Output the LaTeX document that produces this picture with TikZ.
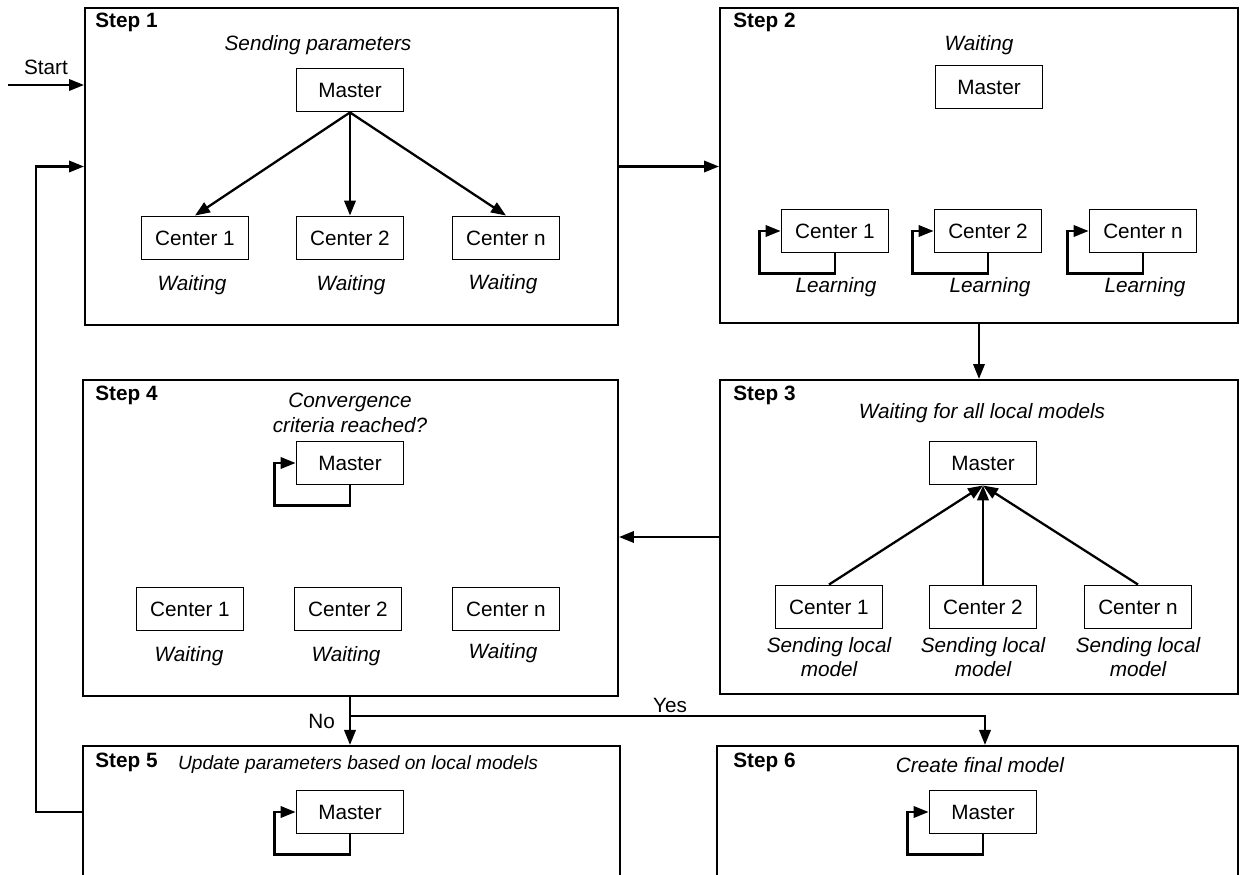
\documentclass[tikz,border=0pt]{standalone}
\usepackage{fontspec}
\setmainfont{Liberation Sans}
\usetikzlibrary{calc,arrows.meta,positioning}
\definecolor{ink}{HTML}{000000}
\newcommand\diafont{\fontsize{11.8}{14}\selectfont}
\newcommand\selfloop[1]{\draw[flow] (#1.south) -- ++(0,20) -| ($(#1.west)+(-21,0)$) -- (#1.west);}
\tikzset{
  stepframe/.style={draw=ink, line width=1.25pt, fill=white, inner sep=0pt},
  unit/.style={draw=ink, line width=1.1pt, fill=white, minimum width=2.14cm, minimum height=0.86cm, inner sep=0pt, font=\diafont},
  flow/.style={draw=ink, line width=1.3pt, line join=miter, -{Triangle[length=8.5pt,width=6.5pt]}},
  tag/.style={text=ink, font=\diafont\bfseries, anchor=west, inner sep=0pt},
  note/.style={text=ink, font=\diafont\itshape, align=center, inner sep=0pt},
  lab/.style={text=ink, font=\diafont, inner sep=0pt},
}
\begin{document}
\begin{tikzpicture}[x=0.02cm, y=-0.02cm]
  \useasboundingbox (0,0) rectangle (1245,875);
  \clip (0,0) rectangle (1245,875);
  \node[stepframe, minimum width=10.66cm, minimum height=6.34cm] (s1) at (351.5,166.5) {};
  \node[stepframe, minimum width=10.36cm, minimum height=6.30cm] (s2) at (979,165.5) {};
  \node[stepframe, minimum width=10.36cm, minimum height=6.28cm] (s3) at (979,537) {};
  \node[stepframe, minimum width=10.70cm, minimum height=6.32cm] (s4) at (350.5,538) {};
  \node[stepframe, minimum width=10.74cm, minimum height=5.08cm] (s5) at (351.5,873) {};
  \node[stepframe, minimum width=10.42cm, minimum height=5.08cm] (s6) at (977.5,873) {};

  \node[tag] (t1) at (95,22) {Step 1};
  \node[tag] (t2) at (733,22) {Step 2};
  \node[tag] (t3) at (733,395) {Step 3};
  \node[tag] (t4) at (95,395) {Step 4};
  \node[tag] (t5) at (95,762) {Step 5};
  \node[tag] (t6) at (733,762) {Step 6};

  % step 1
  \node[note] (h1) at (318,45) {Sending parameters};
  \node[unit] (m1) at (350,90) {Master};
  \node[unit] (c11) at (195,238) {Center 1};
  \node[unit] (c12) at (350,238) {Center 2};
  \node[unit] (c1n) at (506,238) {Center n};
  \node[note] (w11) at (192,285) {Waiting};
  \node[note] (w12) at (351,285) {Waiting};
  \node[note] (w1n) at (503,284) {Waiting};
  \foreach \c in {c11,c12,c1n} {\draw[flow] (m1.south) -- (\c.north);}

  % step 2
  \node[note] (h2) at (979,45) {Waiting};
  \node[unit] (m2) at (989,87) {Master};
  \node[unit] (c21) at (835,231) {Center 1};
  \node[unit] (c22) at (988,231) {Center 2};
  \node[unit] (c2n) at (1143,231) {Center n};
  \node[note] (l21) at (836,287) {Learning};
  \node[note] (l22) at (990,287) {Learning};
  \node[note] (l2n) at (1145,287) {Learning};
  \foreach \c in {c21,c22,c2n} {\selfloop{\c}}

  % step 3
  \node[note] (h3) at (982,413) {Waiting for all local models};
  \node[unit] (m3) at (983,463) {Master};
  \node[unit] (c31) at (829,607) {Center 1};
  \node[unit] (c32) at (983,607) {Center 2};
  \node[unit] (c3n) at (1138,607) {Center n};
  \node[note] (e31) at (829,657) {Sending local\\model};
  \node[note] (e32) at (983,657) {Sending local\\model};
  \node[note] (e3n) at (1138,657) {Sending local\\model};
  \foreach \c in {c31,c32,c3n} {\draw[flow] (\c.north) -- (m3.south);}

  % step 4
  \node[note] (h4) at (350,413) {Convergence\\criteria reached?};
  \node[unit] (m4) at (350,463) {Master};
  \node[unit] (c41) at (190,609) {Center 1};
  \node[unit] (c42) at (348,609) {Center 2};
  \node[unit] (c4n) at (506,609) {Center n};
  \node[note] (w41) at (189,656) {Waiting};
  \node[note] (w42) at (346,656) {Waiting};
  \node[note] (w4n) at (503,653) {Waiting};
  \selfloop{m4}

  % step 5 and 6
  \node[note, font=\fontsize{10.9}{14}\selectfont\itshape] (h5) at (358,765) {Update parameters based on local models};
  \node[unit] (m5) at (350,812) {Master};
  \selfloop{m5}
  \node[note] (h6) at (980,765) {Create final model};
  \node[unit] (m6) at (983,812) {Master};
  \selfloop{m6}

  % between steps
  \coordinate (go) at (8,85);
  \draw[flow] (go) -- (go -| s1.west) node[lab, midway, above=5pt] (st) {Start};
  \draw[flow] (s1.east) -- (s1.east -| s2.west);
  \draw[flow] (s2.south) -- (s2.south |- s3.north);
  \draw[flow] (s3.west) -- (s3.west -| s4.east);
  \coordinate (br) at (350,716);
  \coordinate (yesdrop) at (985,716);
  \draw[flow] (br |- s4.south) -- (br |- s5.north) node[lab, pos=0.5, left=8pt] (no) {No};
  \draw[flow] (br) -- (yesdrop) -- (yesdrop |- s6.north);
  \node[lab] (yes) at (670,705) {Yes};
  \draw[flow] (s5.west |- m5) -- ++(-46,0) |- (s1.west);
\end{tikzpicture}
\end{document}
